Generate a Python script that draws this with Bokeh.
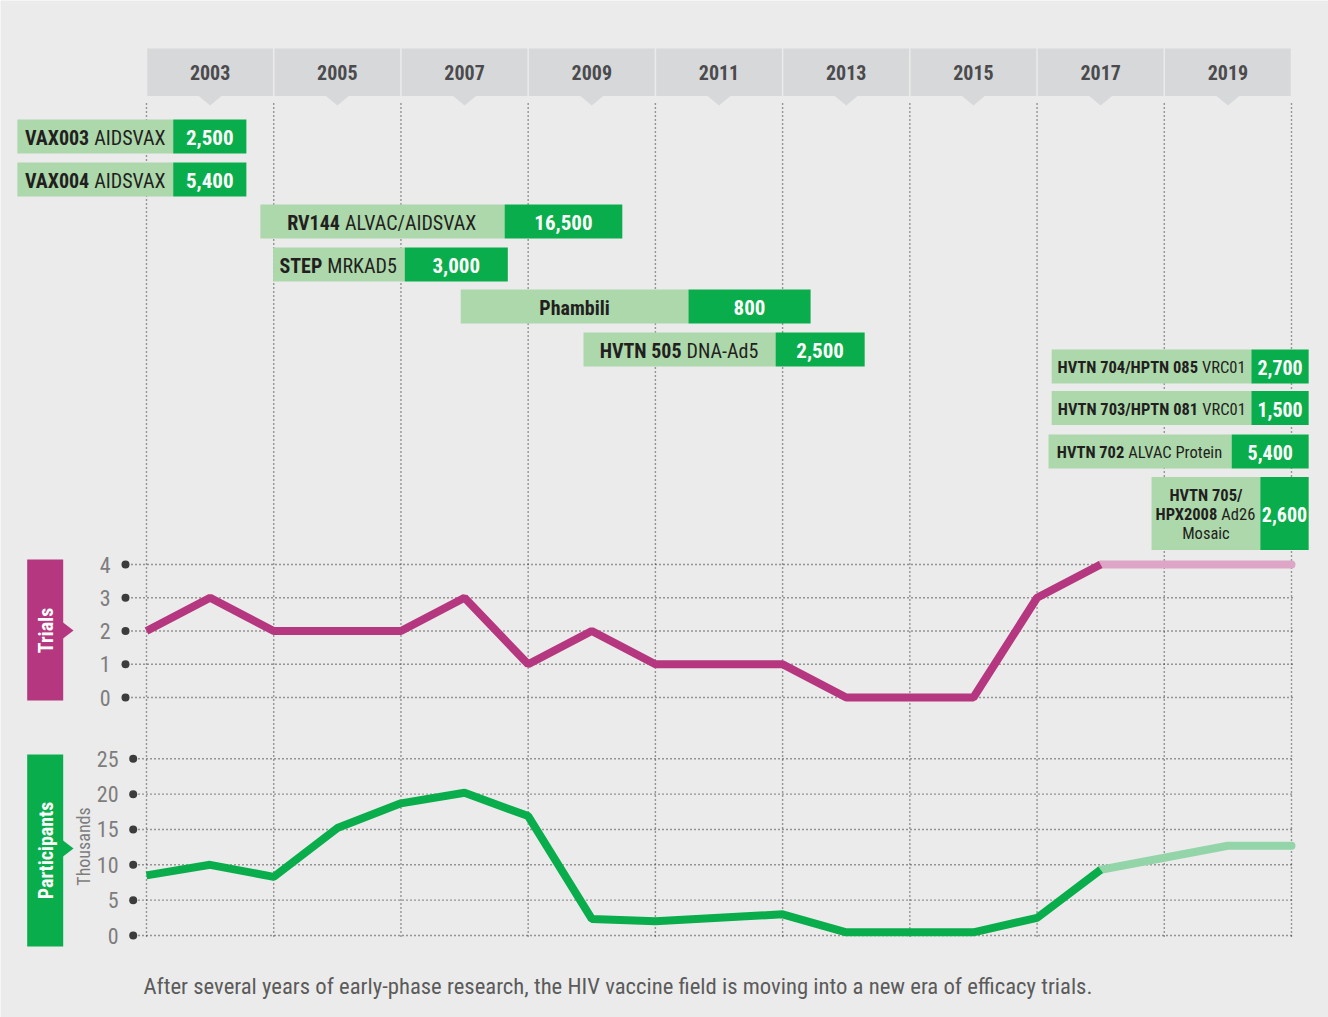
import math
from bokeh.plotting import figure
from bokeh.models import Range1d
from bokeh.core.properties import value
from bokeh.embed import file_html
from bokeh.resources import INLINE

# ------------------------------------------------------------------ data
trial_years = [2002, 2003, 2004, 2005, 2006, 2007, 2008, 2009, 2010, 2011,
               2012, 2013, 2014, 2015, 2016, 2017]
trials = [2, 3, 2, 2, 2, 3, 1, 2, 1, 1, 1, 0, 0, 0, 3, 4]
participants = [8.5, 10.0, 8.3, 15.2, 18.7, 20.2, 16.9, 2.35, 2.0, 2.5,
                3.0, 0.45, 0.45, 0.45, 2.5, 9.3]          # thousands
proj_years = [2017, 2018, 2019, 2020]
trials_proj = [4, 4, 4, 4]
participants_proj = [9.3, 11.0, 12.7, 12.7]

header_years = [2003, 2005, 2007, 2009, 2011, 2013, 2015, 2017, 2019]
grid_years = [2002, 2004, 2006, 2008, 2010, 2012, 2014, 2016, 2018, 2020]
trial_ticks = [0, 1, 2, 3, 4]
part_ticks = [0, 5, 10, 15, 20, 25]

trial_bold = ["VAX003", "VAX004", "RV144", "STEP", "Phambili", "HVTN 505",
              "HVTN 704/HPTN 085", "HVTN 703/HPTN 081", "HVTN 702", "HPX2008"]
trial_regular = ["AIDSVAX", "AIDSVAX", "ALVAC/AIDSVAX", "MRKAD5", "", "DNA-Ad5",
                 "VRC01", "VRC01", "ALVAC Protein", "Ad26"]
trial_line_above = ["", "", "", "", "", "", "", "", "", "HVTN 705/"]
trial_line_below = ["", "", "", "", "", "", "", "", "", "Mosaic"]
trial_size = ["2,500", "5,400", "16,500", "3,000", "800", "2,500",
              "2,700", "1,500", "5,400", "2,600"]
bar_start = [1999.97, 1999.97, 2003.79, 2003.99, 2006.94, 2008.87,
             2016.23, 2016.23, 2016.18, 2017.80]
bar_split = [2002.42, 2002.42, 2007.63, 2006.06, 2010.52, 2011.89,
             2019.37, 2019.37, 2019.06, 2019.51]
bar_end = [2003.57, 2003.57, 2009.48, 2007.68, 2012.44, 2013.29,
           2020.27, 2020.27, 2020.27, 2020.27]

caption = ("After several years of early-phase research, the HIV vaccine field "
           "is moving into a new era of efficacy trials.")

# ------------------------------------------------------------------ layout (pixels)
W, H = 1328, 1017
PAGE = 0
X2002, PX_PER_YEAR = 146.0, 63.611
TR0_Y, TR_PX = 697.0, 33.25
PA0_Y, PA_PX = 935.0, 7.068

row_y = [136, 179, 221, 264, 306, 349, 366, 407.5, 451, 513]
row_h = [34, 34, 34, 34, 34, 34, 34, 34, 34, 73]
label_split = [91.2, 91.2, 341.9, 324.3, None, 683.5, 1199.5, 1199.7, 1125.8, 1218.8]
half_gap = [2.5, 2.5, 2.5, 2.5, 2.5, 2.5, 2, 2, 2, 2]
label_size = [20, 20, 20, 20, 20, 20, 16.5, 16.5, 16.5, 16.5]
num_size = [21, 21, 21, 21, 21, 21, 20, 20, 20, 20]

FONT = value("'Roboto Condensed', 'Liberation Sans Narrow', 'Arial Narrow', Roboto, sans-serif")

BG = "#ebebeb"
MAG = "#b5377f"
MAG_L = "#dda6c6"
GRN = "#0aad4b"
GRN_L = "#93d5a9"
BAR_L = "#acd8ab"
HEAD = "#d7d8da"
GRID = "#3e3e3e"
INK = "#231f20"
DASH = "1 3"


def yr(px):
    return 2002 + (px - X2002) / PX_PER_YEAR


left_img, right_img = PAGE, PAGE + W
top_img, bot_img = PAGE, PAGE + H

p = figure(width=W, height=H, output_backend="svg", toolbar_location=None,
           x_range=Range1d(yr(left_img), yr(right_img)),
           y_range=Range1d(bot_img, top_img),
           min_border=0, outline_line_color=None,
           background_fill_color=BG, border_fill_color=BG)
p.axis.visible = False
p.grid.visible = False
p.extra_x_ranges = {"px": Range1d(left_img, right_img)}
p.extra_y_ranges = {
    "trials": Range1d((TR0_Y - bot_img) / TR_PX, (TR0_Y - top_img) / TR_PX),
    "parts": Range1d((PA0_Y - bot_img) / PA_PX, (PA0_Y - top_img) / PA_PX),
}

# vertical dotted grid
p.segment(x0=grid_years, x1=grid_years, y0=[103] * len(grid_years),
          y1=[936] * len(grid_years), line_color=GRID, line_width=1.4,
          line_dash=DASH)

# horizontal dotted grid
p.segment(x0=[131] * 5, x1=[1293] * 5, y0=trial_ticks, y1=trial_ticks,
          x_range_name="px", y_range_name="trials",
          line_color=GRID, line_width=1.4, line_dash=DASH)
p.segment(x0=[138] * 6, x1=[1293] * 6, y0=part_ticks, y1=part_ticks,
          x_range_name="px", y_range_name="parts",
          line_color=GRID, line_width=1.4, line_dash=DASH)

# header
gap = 0.75 / PX_PER_YEAR
p.quad(left=[y - 1 + gap for y in header_years],
       right=[y + 1 - gap for y in header_years],
       top=[48] * 9, bottom=[95.5] * 9, fill_color=HEAD, line_color=None)
tri = 12 / PX_PER_YEAR
p.patches(xs=[[y - tri, y + tri, y] for y in header_years],
          ys=[[95, 95, 105]] * 9, fill_color=HEAD, line_color=None)
p.text(x=header_years, y=[72] * 9, text=[str(y) for y in header_years],
       text_font=FONT, text_font_style="bold", text_font_size="20px",
       text_color="#4b4b4d", text_align="center", text_baseline="middle")

# trial bars
p.quad(left=bar_start, right=bar_split,
       top=[c - h / 2 for c, h in zip(row_y, row_h)],
       bottom=[c + h / 2 for c, h in zip(row_y, row_h)],
       fill_color=BAR_L, line_color=None)
p.quad(left=bar_split, right=bar_end,
       top=[c - h / 2 for c, h in zip(row_y, row_h)],
       bottom=[c + h / 2 for c, h in zip(row_y, row_h)],
       fill_color=GRN, line_color=None)

# size numbers
for i in range(len(trial_size)):
    p.text(x=[(bar_split[i] + bar_end[i]) / 2], y=[row_y[i] + 1],
           text=[trial_size[i]], text_font=FONT, text_font_style="bold",
           text_font_size=f"{num_size[i]}px", text_color="white",
           text_align="center", text_baseline="middle")

# labels
for i in range(len(trial_bold)):
    fs = f"{label_size[i]}px"
    ty = row_y[i] + 1
    if label_split[i] is None:
        p.text(x=[(bar_start[i] + bar_split[i]) / 2], y=[ty], text=[trial_bold[i]],
               text_font=FONT, text_font_style="bold", text_font_size=fs,
               text_color=INK, text_align="center", text_baseline="middle")
        continue
    p.text(x=[label_split[i] - half_gap[i]], y=[ty], text=[trial_bold[i]],
           x_range_name="px", text_font=FONT, text_font_style="bold",
           text_font_size=fs, text_color=INK, text_align="right",
           text_baseline="middle")
    p.text(x=[label_split[i] + half_gap[i]], y=[ty], text=[trial_regular[i]],
           x_range_name="px", text_font=FONT, text_font_style="normal",
           text_font_size=fs, text_color=INK, text_align="left",
           text_baseline="middle")
    if trial_line_above[i]:
        cx = (bar_start[i] + bar_split[i]) / 2
        p.text(x=[cx], y=[ty - 19], text=[trial_line_above[i]],
               text_font=FONT, text_font_style="bold", text_font_size=fs,
               text_color=INK, text_align="center", text_baseline="middle")
        p.text(x=[cx], y=[ty + 19], text=[trial_line_below[i]],
               text_font=FONT, text_font_style="normal", text_font_size=fs,
               text_color=INK, text_align="center", text_baseline="middle")

# lines
p.line(proj_years, trials_proj, y_range_name="trials", line_color=MAG_L,
       line_width=8, line_cap="round")
p.line(trial_years, trials, y_range_name="trials", line_color=MAG,
       line_width=8, line_cap="butt")
p.line(proj_years, participants_proj, y_range_name="parts", line_color=GRN_L,
       line_width=8, line_cap="round")
p.line(trial_years, participants, y_range_name="parts", line_color=GRN,
       line_width=8, line_cap="butt")

# tick dots & labels
p.scatter(x=[125] * 5, y=trial_ticks, x_range_name="px", y_range_name="trials",
          size=8, fill_color="#3c3c3c", line_color=None)
p.scatter(x=[132.7] * 6, y=part_ticks, x_range_name="px", y_range_name="parts",
          size=8, fill_color="#3c3c3c", line_color=None)
p.text(x=[110] * 5, y=trial_ticks, text=[str(t) for t in trial_ticks],
       x_range_name="px", y_range_name="trials", text_font=FONT,
       text_font_size="22px", text_color="#7d7d7d", text_align="right",
       text_baseline="middle")
p.text(x=[118] * 6, y=part_ticks, text=[str(t) for t in part_ticks],
       x_range_name="px", y_range_name="parts", text_font=FONT,
       text_font_size="22px", text_color="#7d7d7d", text_align="right",
       text_baseline="middle")

# side tags
for (top, bot, mid, color, label, ty) in [
        (559, 700, 630, MAG, "Trials", 630),
        (754, 946, 848, GRN, "Participants", 850)]:
    p.quad(left=[26.7], right=[62.7], top=[top], bottom=[bot], x_range_name="px",
           fill_color=color, line_color=None)
    p.patches(xs=[[62.5, 73, 62.5]], ys=[[mid - 8, mid, mid + 8]], x_range_name="px",
              fill_color=color, line_color=None)
    p.text(x=[45], y=[ty], text=[label], x_range_name="px", angle=math.pi / 2,
           text_font=FONT, text_font_style="bold", text_font_size="20px",
           text_color="white", text_align="center", text_baseline="middle")

p.text(x=[83], y=[846], text=["Thousands"], x_range_name="px", angle=math.pi / 2,
       text_font=FONT, text_font_size="18px", text_color="#7d7d7d",
       text_align="center", text_baseline="middle")

# caption
p.text(x=[143], y=[986], text=[caption], x_range_name="px", text_font=FONT,
       text_font_size="22.7px", text_color="#5b5b5b", text_align="left",
       text_baseline="middle")

open("out.html", "w").write(file_html(p, INLINE))
